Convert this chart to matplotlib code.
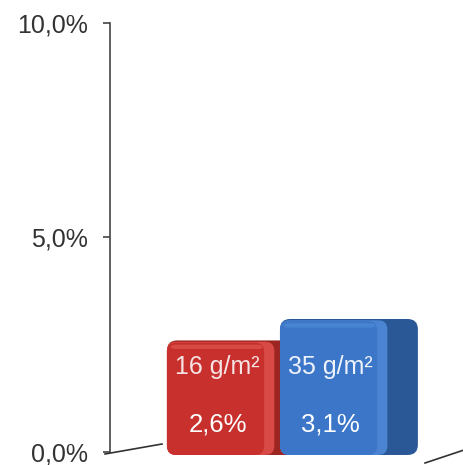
import matplotlib.pyplot as plt
from matplotlib.patches import FancyBboxPatch
from matplotlib.ticker import FuncFormatter

plt.rcParams['font.family'] = ['Liberation Sans', 'DejaVu Sans']

categories = ['16 g/m²', '35 g/m²']
values = [2.6, 3.1]
yticks = [0, 5, 10]
colors = ['#c8302d', '#3b76c8']
side = ['#9c2421', '#2a5896']
rim = ['#d84a45', '#4a84d2']
light = ['#dc5550', '#4f8ad8']
label_col = ['#f6e4e4', '#eef2fa']

fig = plt.figure(figsize=(4.64, 4.65), dpi=100)
ax = fig.add_axes([0.237, 0.028, 0.763, 0.9226])
ax.set_xlim(-1.004, 2.128)
ax.set_ylim(0, 10)

x = list(range(len(values)))
bars = ax.bar(x, values, width=1.0, color=colors)
asp = 113 / 42.9
base = -0.07
for i, b in enumerate(bars):
    b.set_visible(False)
    x0, w, h = b.get_x(), b.get_width(), b.get_height()
    z = 2 + 4 * i
    # dark side block
    ax.add_patch(FancyBboxPatch((x0, base), w * 1.22, h - base,
                                boxstyle='round,pad=0,rounding_size=0.09',
                                mutation_aspect=asp, fc=side[i], ec='none',
                                zorder=z, clip_on=False))
    # lighter rim between front and side
    ax.add_patch(FancyBboxPatch((x0, base), w * 0.95, h - base - 0.03,
                                boxstyle='round,pad=0,rounding_size=0.08',
                                mutation_aspect=asp, fc=rim[i], ec='none',
                                zorder=z + 1, clip_on=False))
    # front face
    ax.add_patch(FancyBboxPatch((x0, base), w * 0.86, h - base - 0.05,
                                boxstyle='round,pad=0,rounding_size=0.08',
                                mutation_aspect=asp, fc=colors[i], ec='none',
                                zorder=z + 2, clip_on=False))
    # top highlight
    ax.add_patch(FancyBboxPatch((x0 + 0.03, h - 0.2), w * 0.82, 0.1,
                                boxstyle='round,pad=0,rounding_size=0.04',
                                mutation_aspect=asp, fc=light[i], ec='none',
                                alpha=0.7, zorder=z + 3))
    cx = x0 + w * 0.45
    ax.text(cx, 1.98, categories[i], ha='center', va='center', fontsize=18,
            color=label_col[i], zorder=20)
    ax.text(cx, 0.63, ('%.1f%%' % values[i]).replace('.', ','), ha='center',
            va='center', fontsize=18.5, color='white', zorder=20)

for s in ['top', 'right', 'bottom']:
    ax.spines[s].set_visible(False)
ax.spines['left'].set_color('#444444')
ax.spines['left'].set_linewidth(1.2)
ax.set_yticks(yticks)
ax.yaxis.set_major_formatter(FuncFormatter(lambda v, p: ('%.1f%%' % v).replace('.', ',')))
ax.tick_params(axis='y', length=5, width=1.2, color='#444444', labelsize=18,
               labelcolor='#333333', pad=11)
ax.set_xticks([])

# perspective floor lines
fig.add_artist(plt.Line2D([105 / 464, 162 / 464], [1 - 454 / 465, 1 - 444 / 465],
                          color='#333333', lw=1.2))
fig.add_artist(plt.Line2D([425 / 464, 464 / 464], [1 - 463 / 465, 1 - 450 / 465],
                          color='#333333', lw=1.2))

fig.savefig('out.png', dpi=100)
